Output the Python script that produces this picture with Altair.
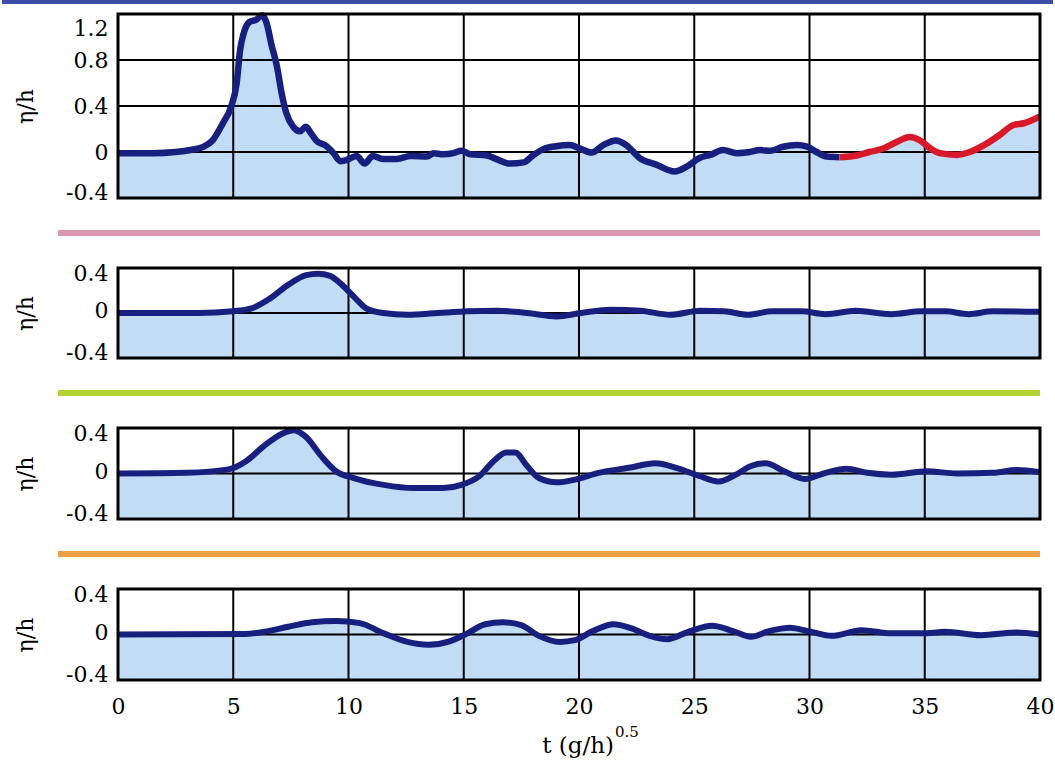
import altair as alt
import pandas as pd

# Gauge 1 (blue part, then red continuation) -- t (g/h)^0.5 vs eta/h
g1_t = [0, 1.5, 2.5, 3.2, 3.7, 4.1, 4.55, 4.9, 5.15, 5.3, 5.45, 5.7, 6.0, 6.25,
        6.45, 6.65, 6.9, 7.1, 7.3, 7.6, 7.9, 8.15, 8.35, 8.6, 9.05, 9.35, 9.65,
        9.9, 10.35, 10.7, 11.05, 11.5, 12.1, 12.7, 13.4, 13.7, 14.1, 14.55, 14.9,
        15.3, 16.0, 16.4, 17.0, 17.6, 18.0, 18.45, 19.0, 19.6, 20.05, 20.55,
        21.05, 21.6, 22.05, 22.65, 23.35, 24.15, 24.65, 25.25, 25.7, 26.25,
        26.85, 27.4, 27.85, 28.3, 28.85, 29.45, 29.9, 30.3, 30.75, 31.3]
g1_eta = [-0.01, -0.01, 0.0, 0.02, 0.045, 0.10, 0.25, 0.39, 0.6, 0.89, 1.03, 1.13,
          1.15, 1.19, 1.12, 0.94, 0.74, 0.51, 0.34, 0.22, 0.18, 0.22, 0.17, 0.10,
          0.05, -0.01, -0.08, -0.07, -0.035, -0.1, -0.035, -0.06, -0.06, -0.035,
          -0.04, -0.01, -0.02, -0.01, 0.01, -0.02, -0.03, -0.06, -0.1, -0.09,
          -0.03, 0.025, 0.05, 0.06, 0.03, -0.005, 0.06, 0.10, 0.06, -0.055, -0.11,
          -0.17, -0.13, -0.05, -0.025, 0.017, -0.01, 0.0, 0.017, 0.01, 0.046,
          0.06, 0.046, 0.0, -0.04, -0.045]
g1_red_t = [31.3, 32.05, 32.6, 33.2, 33.8, 34.35, 34.8, 35.25, 35.65, 36.4, 36.95,
            37.7, 38.25, 38.85, 39.3, 40.0]
g1_red_eta = [-0.045, -0.03, 0.0, 0.03, 0.09, 0.13, 0.10, 0.03, -0.01, -0.025, 0.0,
              0.075, 0.148, 0.235, 0.25, 0.31]

# Gauge 2
g2_t = [0, 3.5, 4.97, 5.83, 6.6, 7.38, 8.16, 8.68, 9.2, 9.72, 10.23, 10.75, 11.5,
        12.56, 13.86, 15.16, 16.45, 17.75, 19.04, 20.08, 21.37, 22.67, 23.96,
        25.26, 26.3, 27.33, 28.37, 29.66, 30.7, 32.0, 33.55, 34.84, 35.88, 36.9,
        37.95, 40.0]
g2_eta = [0, 0, 0.015, 0.044, 0.13, 0.25, 0.336, 0.35, 0.33, 0.25, 0.146, 0.044,
          0.0, -0.015, 0.0, 0.015, 0.02, 0.0, -0.03, 0.0, 0.03, 0.02, -0.015, 0.02,
          0.015, -0.015, 0.015, 0.015, -0.01, 0.02, -0.01, 0.015, 0.015, -0.01,
          0.015, 0.01]

# Gauge 3
g3_t = [0, 2.98, 4.79, 5.57, 6.35, 7.12, 7.64, 8.16, 8.81, 9.46, 10.23, 11.53,
        12.82, 14.1, 14.9, 15.67, 16.3, 16.84, 17.23, 17.75, 18.26, 19.04, 19.82,
        20.85, 22.15, 23.32, 24.22, 25.26, 26.04, 26.81, 27.46, 28.1, 28.9, 29.8,
        30.7, 31.6, 32.5, 33.55, 35.1, 36.4, 37.95, 39.0, 40.0]
g3_eta = [0, 0.006, 0.036, 0.11, 0.245, 0.35, 0.38, 0.32, 0.155, 0.02, -0.04, -0.1,
          -0.128, -0.128, -0.1, -0.024, 0.11, 0.185, 0.185, 0.066, -0.04, -0.078,
          -0.054, 0.006, 0.05, 0.09, 0.05, -0.024, -0.07, -0.01, 0.066, 0.09, 0.02,
          -0.048, 0.006, 0.042, 0.006, -0.01, 0.02, 0.0, 0.006, 0.03, 0.012]

# Gauge 4
g4_t = [0, 5.5, 6.35, 7.38, 8.42, 9.46, 10.49, 11.53, 12.56, 13.47, 14.38, 15.16,
        15.93, 16.7, 17.49, 18.26, 19.17, 19.82, 20.6, 21.5, 22.28, 23.06, 23.83,
        24.74, 25.78, 26.68, 27.46, 28.24, 29.15, 30.05, 30.96, 32.25, 33.55,
        35.1, 35.88, 37.44, 39.0, 40.0]
g4_eta = [0, 0.005, 0.024, 0.068, 0.107, 0.118, 0.1, 0.01, -0.065, -0.09, -0.06,
          0.01, 0.09, 0.107, 0.083, -0.012, -0.065, -0.05, 0.03, 0.09, 0.053,
          -0.012, -0.041, 0.024, 0.077, 0.03, -0.02, 0.03, 0.06, 0.024, -0.012,
          0.038, 0.01, 0.01, 0.024, -0.006, 0.018, 0.0]

x_ticks = [0, 5, 10, 15, 20, 25, 30, 35, 40]
x_grid = [5, 10, 15, 20, 25, 30, 35]
top_ticks = [-0.4, 0, 0.4, 0.8, 1.2]
small_ticks = [-0.4, 0, 0.4]

W = 922
FONT = "DejaVu Serif"
NAVY = "#18207f"
RED = "#d8192a"
FILL = "#c2dcf5"
BANNER = "#3a4ea6"

one = pd.DataFrame({"k": [0]})
label_fmt = ("datum.value == 0 ? '0' : (datum.value < 0 ? '-' + format(-datum.value, '.1f')"
             " : format(datum.value, '.1f'))")


def panel(area_df, lines, ymin, ymax, yticks, ygrid, height, offsets, line_w,
          separator=None, bottom=False, banner=False):
    xs = alt.Scale(domain=[0, 40], nice=False, zero=False)
    ys = alt.Scale(domain=[ymin, ymax], nice=False, zero=False)
    if bottom:
        xaxis = alt.Axis(values=x_ticks, format="d", labelFont=FONT, labelFontSize=22,
                         labelColor="black", labelPadding=16, labelFlush=False,
                         ticks=False, domain=False, grid=False, title=None)
    else:
        xaxis = None
    yaxis = alt.Axis(values=yticks, labelExpr=label_fmt, labelFont=FONT,
                     labelFontSize=22, labelColor="black", labelPadding=10,
                     labelBaseline="middle", labelFlush=False, ticks=False,
                     domain=False, grid=False,
                     labelOffset={"condition": [{"test": f"datum.value > {ymax - 0.01}", "value": offsets[0]},
                                                {"test": f"datum.value < {ymin + 0.01}", "value": offsets[1]},
                                                {"test": "datum.value == 0", "value": offsets[2]}],
                                  "value": 0},
                     title="η/h", titleFont=FONT, titleFontSize=22,
                     titleFontWeight="normal", titleColor="black", titleX=-81,
                     titleY=height / 2, titleAngle=270, titleBaseline="bottom",
                     titleAlign="center")

    # every layer carries the same axis definitions so the layered axes merge
    def X():
        return alt.X("t:Q", scale=xs, axis=xaxis)

    def Y():
        return alt.Y("eta:Q", scale=ys, axis=yaxis)

    area = alt.Chart(area_df).mark_area(color=FILL, interpolate="monotone").encode(
        x=X(), y=Y(), y2=alt.datum(ymin),
    )
    vgrid = alt.Chart(pd.DataFrame({"t": x_grid})).mark_rule(
        color="black", strokeWidth=2).encode(x=X())
    hgrid = alt.Chart(pd.DataFrame({"eta": ygrid})).mark_rule(
        color="black", strokeWidth=2).encode(y=Y())
    layers = [area, vgrid, hgrid]
    for df, col in lines:
        layers.append(
            alt.Chart(df).mark_line(color=col, strokeWidth=line_w, interpolate="monotone",
                                    strokeCap="butt", strokeJoin="round").encode(
                x=X(), y=Y())
        )
    layers.append(
        alt.Chart(one).mark_rect(filled=False, stroke="black", strokeWidth=3).encode(
            x=alt.value(0), x2=alt.value(W), y=alt.value(0), y2=alt.value(height))
    )
    if separator:
        layers.append(
            alt.Chart(one).mark_rule(color=separator, strokeWidth=6).encode(
                x=alt.value(-60), x2=alt.value(W), y=alt.value(height + 35))
        )
    if banner:
        layers.append(
            alt.Chart(one).mark_rule(color=BANNER, strokeWidth=4).encode(
                x=alt.value(-116), x2=alt.value(935), y=alt.value(-12))
        )
    if bottom:
        layers.append(
            alt.Chart(one).mark_text(font=FONT, fontSize=23, align="right",
                                     baseline="alphabetic", color="black").encode(
                x=alt.value(496), y=alt.value(height + 73), text=alt.value("t (g/h)"))
        )
        layers.append(
            alt.Chart(one).mark_text(font=FONT, fontSize=15, align="left",
                                     baseline="alphabetic", color="black").encode(
                x=alt.value(497), y=alt.value(height + 57), text=alt.value("0.5"))
        )
    return alt.layer(*layers).properties(width=W, height=height)


g1_area = pd.DataFrame({"t": g1_t + g1_red_t[1:], "eta": g1_eta + g1_red_eta[1:]})
p1 = panel(g1_area,
           [(pd.DataFrame({"t": g1_t, "eta": g1_eta}), NAVY),
            (pd.DataFrame({"t": g1_red_t, "eta": g1_red_eta}), RED)],
           -0.4, 1.2, top_ticks, [0, 0.4, 0.8], 184, (14, -6, 0), 6.5,
           separator="#da98af", banner=True)

g2 = pd.DataFrame({"t": g2_t, "eta": g2_eta})
p2 = panel(g2, [(g2, NAVY)], -0.4, 0.4, small_ticks, [0], 90, (5, -6, -3), 6,
           separator="#b4d232")

g3 = pd.DataFrame({"t": g3_t, "eta": g3_eta})
p3 = panel(g3, [(g3, NAVY)], -0.4, 0.4, small_ticks, [0], 91, (5, -6, -2), 6,
           separator="#eba046")

g4 = pd.DataFrame({"t": g4_t, "eta": g4_eta})
p4 = panel(g4, [(g4, NAVY)], -0.4, 0.4, small_ticks, [0], 91, (5, -6, -2), 6,
           bottom=True)

chart = alt.vconcat(p1, p2, p3, p4, spacing=70, bounds="flush").properties(
    padding=0, background="white"
).configure_view(strokeWidth=0)

chart.save("out.html", embed_options={"renderer": "svg", "actions": False})
